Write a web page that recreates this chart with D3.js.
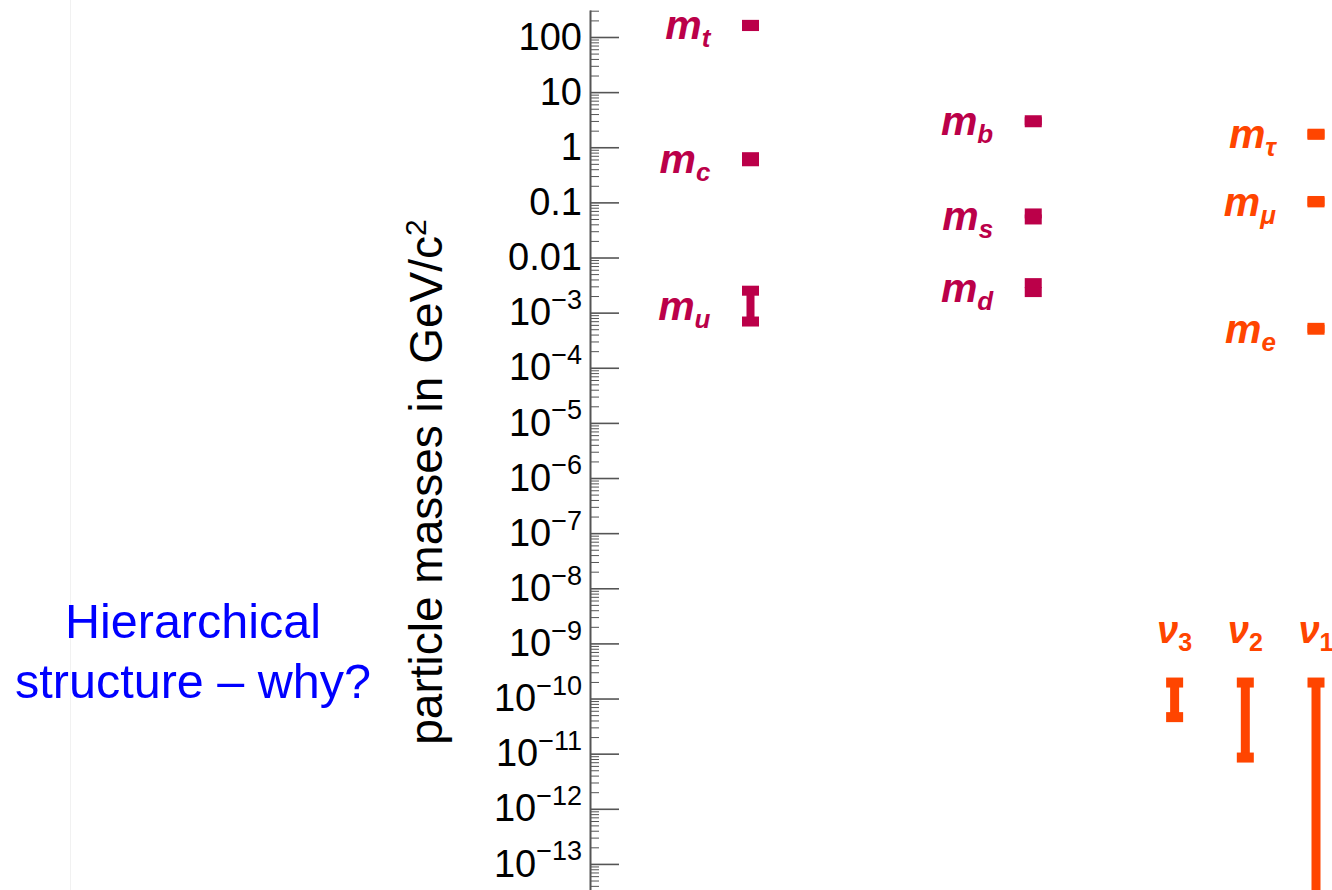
<!DOCTYPE html>
<html>
<head>
<meta charset="utf-8">
<script src="https://cdn.jsdelivr.net/npm/d3@7"></script>
<style>
  html, body { margin: 0; padding: 0; background: #fff; }
  svg { display: block; }
</style>
</head>
<body>
<svg id="chart" width="1332" height="890"></svg>
<script>
// Fermion masses in GeV/c^2, drawn as [low, high] ranges on a log axis.
const quarkNames = ["t", "c", "u", "b", "s", "d"];
const quarkColumn = [1, 1, 1, 2, 2, 2];
const quarkLow  = [158, 0.557, 6.9e-4, 2.84, 0.049, 2.36e-3];
const quarkHigh = [166, 0.66, 2.5e-3, 3.09, 0.063, 3.43e-3];

const leptonNames = ["τ", "μ", "e"];
const leptonColumn = [3, 3, 3];
const leptonLow  = [1.68, 0.100, 4.9e-4];
const leptonHigh = [1.76, 0.106, 5.3e-4];

const neutrinoNames = ["3", "2", "1"];
const neutrinoColumn = [2.5, 2.75, 3];
const neutrinoLow  = [4.6e-11, 8.5e-12, 1e-16];
const neutrinoHigh = [1.95e-10, 1.95e-10, 1.95e-10];

const majorTicks = [1e2, 1e1, 1, 1e-1, 1e-2, 1e-3, 1e-4, 1e-5, 1e-6, 1e-7,
                    1e-8, 1e-9, 1e-10, 1e-11, 1e-12, 1e-13];
const majorTickLabels = ["100", "10", "1", "0.1", "0.01", "10^−3", "10^−4", "10^−5",
                         "10^−6", "10^−7", "10^−8", "10^−9", "10^−10", "10^−11",
                         "10^−12", "10^−13"];
const minorMultipliers = [2, 3, 4, 5, 6, 7, 8, 9];

const axisTitle = "particle masses in GeV/c";
const sideText = ["Hierarchical", "structure – why?"];

const quarkColor = "#bb0049";
const leptonColor = "#ff4500";
const axisColor = "#555";

const svg = d3.select("#chart");

// faint slide border on the left
svg.append("line")
  .attr("x1", 70.5).attr("x2", 70.5).attr("y1", 0).attr("y2", 890)
  .attr("stroke", "#f1f1f1").attr("stroke-width", 1);

const y = d3.scaleLog().domain([308.8, 3.365e-14]).range([10, 890]);
const x = d3.scaleLinear().domain([1, 3]).range([750.5, 1316]);
const axisX = 590;

// minor ticks: 2..9 within every decade
const minorTicks = [];
for (let e = -14; e <= 2; e++) {
  minorMultipliers.forEach(k => {
    const v = k * Math.pow(10, e);
    if (v <= y.domain()[0] && v >= y.domain()[1]) minorTicks.push(v);
  });
}

const minorAxis = d3.axisLeft(y).tickValues(minorTicks)
  .tickSizeInner(-9).tickSizeOuter(0).tickFormat("");
const gMinor = svg.append("g").attr("transform", `translate(${axisX},0)`).call(minorAxis);
gMinor.select(".domain").remove();
gMinor.selectAll(".tick line").attr("stroke", axisColor).attr("stroke-width", 1);

const majorAxis = d3.axisLeft(y).tickValues(majorTicks)
  .tickSizeInner(-29).tickSizeOuter(0).tickPadding(8)
  .tickFormat((d, i) => majorTickLabels[i]);
const gMajor = svg.append("g").attr("transform", `translate(${axisX},0)`).call(majorAxis);
gMajor.select(".domain").attr("stroke", axisColor).attr("stroke-width", 2);
gMajor.selectAll(".tick line").attr("stroke", axisColor).attr("stroke-width", 1.6);
gMajor.selectAll(".tick text")
  .attr("font-family", "Liberation Sans, Arial, sans-serif")
  .attr("font-size", 38)
  .attr("fill", "#000")
  .each(function (d, i) {
    const label = majorTickLabels[i];
    const t = d3.select(this);
    if (label.includes("^")) {
      const [base, exp] = label.split("^");
      t.text(null);
      t.append("tspan").text(base);
      t.append("tspan").attr("font-size", 27).attr("dy", "-0.6em").text(exp);
    }
  });

// axis title
const title = svg.append("text")
  .attr("transform", "translate(442,482) rotate(-90)")
  .attr("text-anchor", "middle")
  .attr("font-family", "Liberation Sans, Arial, sans-serif")
  .attr("font-size", 46)
  .attr("fill", "#000");
title.append("tspan").text(axisTitle);
title.append("tspan").attr("font-size", 30).attr("dy", "-0.55em").text("2");

// side question
svg.append("g").selectAll("text")
  .data(sideText)
  .join("text")
  .attr("x", 193)
  .attr("y", (d, i) => 638 + i * 60)
  .attr("text-anchor", "middle")
  .attr("font-family", "Liberation Sans, Arial, sans-serif")
  .attr("font-size", 48.5)
  .attr("fill", "#0000ff")
  .text(d => d);

// range marker: stem plus end caps
function drawRange(g, cx, lo, hi, color, stemW) {
  const yHi = y(hi), yLo = y(lo);
  g.append("rect").attr("x", cx - stemW / 2).attr("width", stemW)
    .attr("y", yHi).attr("height", Math.max(0, yLo - yHi)).attr("fill", color);
  g.append("rect").attr("x", cx - 8.5).attr("width", 17)
    .attr("y", yHi - 5).attr("height", 10).attr("fill", color);
  g.append("rect").attr("x", cx - 8.5).attr("width", 17)
    .attr("y", yLo - 5).attr("height", 10).attr("fill", color);
}

function massLabel(g, cx, lo, hi, sub, color) {
  const cy = (y(lo) + y(hi)) / 2;
  const t = g.append("text")
    .attr("x", cx - 40).attr("y", cy + 14)
    .attr("text-anchor", "end")
    .attr("font-family", "Liberation Sans, Arial, sans-serif")
    .attr("font-weight", "bold")
    .attr("font-style", "italic")
    .attr("fill", color);
  t.append("tspan").attr("font-size", 41).text("m");
  t.append("tspan").attr("font-size", 26).attr("dy", 8).text(sub);
}

const gMarks = svg.append("g");

quarkNames.forEach((n, i) => {
  const g = gMarks.append("g");
  drawRange(g, x(quarkColumn[i]), quarkLow[i], quarkHigh[i], quarkColor, 8);
  massLabel(g, x(quarkColumn[i]), quarkLow[i], quarkHigh[i], n, quarkColor);
});

leptonNames.forEach((n, i) => {
  const g = gMarks.append("g");
  drawRange(g, x(leptonColumn[i]), leptonLow[i], leptonHigh[i], leptonColor, 8);
  massLabel(g, x(leptonColumn[i]), leptonLow[i], leptonHigh[i], n, leptonColor);
});

neutrinoNames.forEach((n, i) => {
  const g = gMarks.append("g");
  const cx = x(neutrinoColumn[i]);
  drawRange(g, cx, neutrinoLow[i], neutrinoHigh[i], leptonColor, 9);
  const t = g.append("text")
    .attr("x", cx).attr("y", y(neutrinoHigh[i]) - 40)
    .attr("text-anchor", "middle")
    .attr("font-family", "Liberation Sans, Arial, sans-serif")
    .attr("font-weight", "bold")
    .attr("fill", leptonColor);
  t.append("tspan").attr("font-size", 38).attr("font-style", "italic").text("ν");
  t.append("tspan").attr("font-size", 25).attr("dy", 8).text(n);
});
</script>
</body>
</html>
